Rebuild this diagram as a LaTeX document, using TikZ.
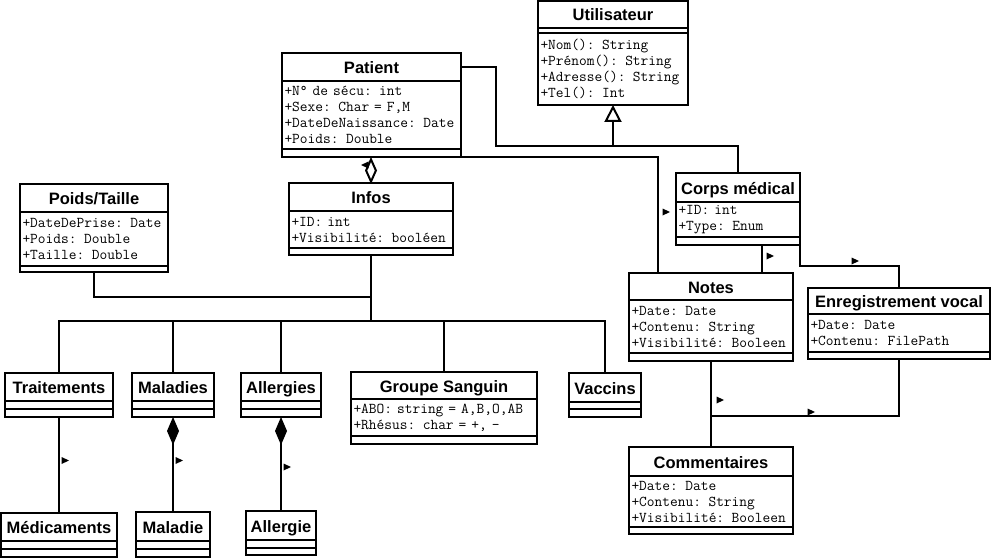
\documentclass[tikz,border=0pt]{standalone}
\usepackage{fontspec}
\setmainfont{Liberation Sans}
\usetikzlibrary{arrows.meta}

\begin{document}
\begin{tikzpicture}[x=1pt, y=-1pt,
  box/.style={draw, line width=2pt, inner sep=0pt, outer sep=0pt, anchor=north west},
  ttl/.style 2 args={box, minimum width=#1, minimum height=#2, text height=14pt, text depth=1pt,
    font=\bfseries\fontsize{16.5}{18}\selectfont},
  att/.style 2 args={box, /utils/exec={\pgfmathsetlengthmacro\attw{#1pt-5pt}}, text width=\attw,
    inner xsep=2.5pt, minimum height=#2, align=left, font=\ttfamily\fontsize{15}{16}\selectfont},
  emp/.style 2 args={box, minimum width=#1, minimum height=#2},
  link/.style={line width=2pt},
  inherit/.style={link, -{Triangle[open, length=17pt, width=17pt]}},
  aggr/.style={link, -{Diamond[open, length=27pt, width=12pt]}},
  comp/.style={link, -{Diamond[length=28pt, width=12pt]}},
  dirmark/.pic={\fill (-3.5,-3.5) -- (4,0) -- (-3.5,3.5) -- cycle;}]
\useasboundingbox (0,0) rectangle (991,559);

% Utilisateur
\node[ttl={150}{27}] (usr) at (538,1) {Utilisateur};
\node[emp={150}{5}] (usr-a) at (usr.south west) {};
\node[att={150}{72}] (usr-o) at (usr-a.south west) {+Nom(): String\\+Prénom(): String\\+Adresse(): String\\+Tel(): Int};

% Patient
\node[ttl={179}{28}] (pat) at (282,53) {Patient};
\node[att={179}{68}] (pat-a) at (pat.south west) {+N° de sécu: int\\+Sexe: Char = F,M\\+DateDeNaissance: Date\\+Poids: Double};
\node[emp={179}{8}] (pat-e) at (pat-a.south west) {};

% Infos
\node[ttl={164}{28}] (inf) at (289,183) {Infos};
\node[att={164}{37}] (inf-a) at (inf.south west) {+ID: int\\+Visibilité: booléen};
\node[emp={164}{7}] (inf-e) at (inf-a.south west) {};

% Poids/Taille
\node[ttl={148}{28}] (pt) at (20,184) {Poids/Taille};
\node[att={148}{54}] (pt-a) at (pt.south west) {+DateDePrise: Date\\+Poids: Double\\+Taille: Double};
\node[emp={148}{6}] (pt-e) at (pt-a.south west) {};

% Corps medical
\node[ttl={124}{29}] (cm) at (676,173) {Corps médical};
\node[att={124}{35}] (cm-a) at (cm.south west) {+ID: int\\+Type: Enum};
\node[emp={124}{8}] (cm-e) at (cm-a.south west) {};

% Notes
\node[ttl={164}{27}] (not) at (629,273) {Notes};
\node[att={164}{53}] (not-a) at (not.south west) {+Date: Date\\+Contenu: String\\+Visibilité: Booleen};
\node[emp={164}{8}] (not-e) at (not-a.south west) {};

% Enregistrement vocal
\node[ttl={182}{26}] (enr) at (808,288) {Enregistrement vocal};
\node[att={182}{38}] (enr-a) at (enr.south west) {+Date: Date\\+Contenu: FilePath};
\node[emp={182}{7}] (enr-e) at (enr-a.south west) {};

% Commentaires
\node[ttl={164}{29}] (com) at (629,447) {Commentaires};
\node[att={164}{51}] (com-a) at (com.south west) {+Date: Date\\+Contenu: String\\+Visibilité: Booleen};
\node[emp={164}{7}] (com-e) at (com-a.south west) {};

% Groupe Sanguin
\node[ttl={186}{27}] (grp) at (351,372) {Groupe Sanguin};
\node[att={186}{37}] (grp-a) at (grp.south west) {+ABO: string = A,B,O,AB\\+Rhésus: char = +, -};
\node[emp={186}{8}] (grp-e) at (grp-a.south west) {};

% classes sans attributs
\node[ttl={108}{28}] (trt) at (5,373) {Traitements};
\node[emp={108}{8}] (trt-a) at (trt.south west) {};
\node[emp={108}{8}] (trt-e) at (trt-a.south west) {};
\node[ttl={82}{28}] (mal) at (132,373) {Maladies};
\node[emp={82}{8}] (mal-a) at (mal.south west) {};
\node[emp={82}{8}] (mal-e) at (mal-a.south west) {};
\node[ttl={80}{28}] (all) at (241,373) {Allergies};
\node[emp={80}{8}] (all-a) at (all.south west) {};
\node[emp={80}{8}] (all-e) at (all-a.south west) {};
\node[ttl={72}{29}] (vac) at (569,373) {Vaccins};
\node[emp={72}{7}] (vac-a) at (vac.south west) {};
\node[emp={72}{8}] (vac-e) at (vac-a.south west) {};
\node[ttl={116}{28}] (med) at (1,513) {Médicaments};
\node[emp={116}{8}] (med-a) at (med.south west) {};
\node[emp={116}{8}] (med-e) at (med-a.south west) {};
\node[ttl={74}{29}] (mdi) at (136,512) {Maladie};
\node[emp={74}{8}] (mdi-a) at (mdi.south west) {};
\node[emp={74}{8}] (mdi-e) at (mdi-a.south west) {};
\node[ttl={70}{29}] (alg) at (246,511) {Allergie};
\node[emp={70}{8}] (alg-a) at (alg.south west) {};
\node[emp={70}{7}] (alg-e) at (alg-a.south west) {};

% liens
\coordinate (g1) at (613,146);
\coordinate (g2) at (496,146);
\draw[inherit] (pat.east) -| (g2) -- (g1) -- (usr-o.south);
\draw[link] (cm.north) |- (g1);
\draw[aggr] (inf.north) -- (inf.north |- pat-e.south);
\draw[link] (pat-e.south east) -| ([xshift=29pt]not.north west);
\draw[link] ([xshift=-38pt]cm-e.south east) -- ([xshift=-38pt]cm-e.south east |- not.north);
\draw[link] (cm-e.south east) -- ++(0,21) -| (enr.north);
\draw[link] (not-e.south) -- (com.north);
\coordinate (cj) at (711,416);
\draw[link] (enr-e.south) |- (cj);

\coordinate (bus) at (371,321);
\coordinate (ptj) at (371,297);
\draw[link] (inf-e.south) -- (bus);
\draw[link] (pt-e.south) |- (ptj);
\draw[link] (trt.north) |- (bus) -| (vac.north);
\foreach \c in {mal,all,grp}
  \draw[link] (\c.north) -- (\c.north |- bus);
\draw[link] (trt-e.south) -- (trt-e.south |- med.north);
\draw[comp] (mdi.north) -- (mal-e.south);
\draw[comp] (alg.north) -- (all-e.south);

% sens de lecture
\foreach \p in {(65,460.5),(179,460.5),(287,467),(666,212),(770,256),(855,261),(720,400),(811,412)}
  \pic at \p {dirmark};
\pic[rotate=180] at (365,165) {dirmark};
\end{tikzpicture}
\end{document}
